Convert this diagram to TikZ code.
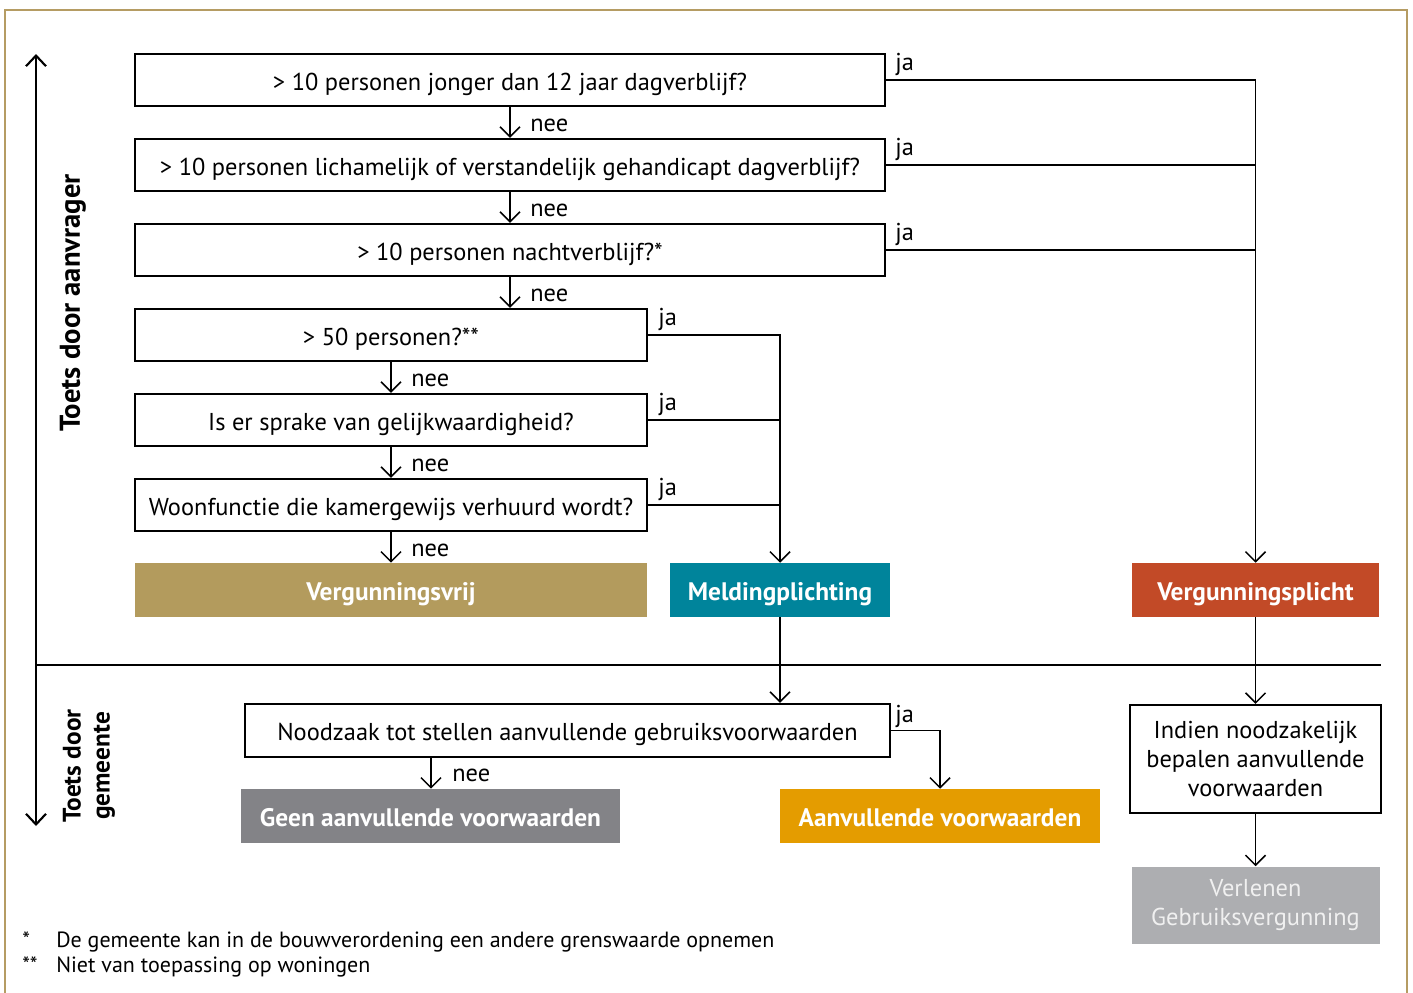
\documentclass[tikz,border=0pt]{standalone}
\usepackage{fontspec}
\setmainfont{PT Sans}
\usetikzlibrary{arrows.meta}
\definecolor{frameclr}{HTML}{B59C63}
\definecolor{goldclr}{HTML}{B39B5D}
\definecolor{tealclr}{HTML}{00849B}
\definecolor{redclr}{HTML}{C24A27}
\definecolor{greyclr}{HTML}{838387}
\definecolor{orangeclr}{HTML}{E49C00}
\definecolor{lgreyclr}{HTML}{ADAEB1}
\tikzset{
  x=0.75pt, y=-0.75pt,
  every node/.style={font=\fontsize{18.3pt}{21.75pt}\selectfont, inner sep=0pt},
  oneline/.style={text height=15pt, text depth=0pt},
  qbox/.style={draw=black, line width=1.8pt, fill=white, minimum height=39pt, oneline},
  result/.style={minimum height=40.5pt, text=white, oneline, font=\fontsize{19pt}{22pt}\selectfont\bfseries},
  conn/.style={line width=1.2pt},
  tip/.style={-{Straight Barb[length=7.5pt,width=15pt,line width=1.1pt]}},
  lbl/.style={anchor=base west},
  note/.style={anchor=base west, font=\fontsize{16.5pt}{20pt}\selectfont},
}
\begin{document}
\begin{tikzpicture}
\useasboundingbox (0,0) rectangle (1413,992);
% frame
\draw[frameclr, line width=1.6pt] (5,1000) -- (5,10) -- (1407,10) -- (1407,1000);

% applicant checks
\node[qbox, minimum width=562.5pt] (q1) at (510,80) {> 10 personen jonger dan 12 jaar dagverblijf?};
\node[qbox, minimum width=562.5pt] (q2) at (510,165) {> 10 personen lichamelijk of verstandelijk gehandicapt dagverblijf?};
\node[qbox, minimum width=562.5pt] (q3) at (510,250) {> 10 personen nachtverblijf?*};
\node[qbox, minimum width=384pt] (q4) at (391,335) {> 50 personen?**};
\node[qbox, minimum width=384pt] (q5) at (391,420) {Is er sprake van gelijkwaardigheid?};
\node[qbox, minimum width=384pt] (q6) at (391,505) {Woonfunctie die kamergewijs verhuurd wordt?};

% outcomes
\node[result, fill=goldclr, minimum width=384pt] (vv) at (391,590) {Vergunningsvrij};
\node[result, fill=tealclr, minimum width=165pt] (mp) at (780,590) {Meldingplichting};
\node[result, fill=redclr, minimum width=185.25pt] (vp) at (1255.5,590) {Vergunningsplicht};

% municipality checks
\node[qbox, minimum width=483.75pt, minimum height=39.75pt] (nz) at (567.5,730.5) {Noodzaak tot stellen aanvullende gebruiksvoorwaarden};
\node[result, fill=greyclr, minimum width=284.25pt] (ga) at (430.5,816) {Geen aanvullende voorwaarden};
\node[result, fill=orangeclr, minimum width=240pt] (av) at (940,816) {Aanvullende voorwaarden};
\node[draw=black, line width=1.8pt, minimum width=188.25pt, minimum height=81pt, align=center] (ind) at (1255.5,759) {Indien noodzakelijk\\bepalen aanvullende\\voorwaarden};
\node[minimum width=186pt, minimum height=57.75pt, fill=lgreyclr, text=white!94!black, align=center] (vg) at (1255.5,905) {Verlenen\\Gebruiksvergunning};

% axis
\coordinate (axtop) at (36,54);
\coordinate (axbot) at (36,826);
\coordinate (axsplit) at (36,665);
\coordinate (axend) at (1381,665);
\draw[line width=2pt, {Straight Barb[length=8pt,width=15pt,line width=1.6pt]}-{Straight Barb[length=8pt,width=15pt,line width=1.6pt]}] (axtop) -- (axbot);
\draw[line width=2pt] (axsplit) -- (axend);
\node[rotate=90, font=\fontsize{21.5pt}{24pt}\selectfont\bfseries] (lapp) at (73,303) {Toets door aanvrager};
\node[rotate=90, align=center, font=\fontsize{19pt}{21.75pt}\selectfont\bfseries] (lmun) at (89,766) {Toets door\\gemeente};

% "nee" connectors
\draw[conn, tip] (q1.south) -- (q2.north);
\draw[conn, tip] (q2.south) -- (q3.north);
\draw[conn, tip] (q3.south) -- (q3.south |- q4.north);
\draw[conn, tip] (q4.south) -- (q5.north);
\draw[conn, tip] (q5.south) -- (q6.north);
\draw[conn, tip] (q6.south) -- (vv.north);
\node[lbl] (n1) at (530,131) {nee};
\node[lbl] (n2) at (530,216) {nee};
\node[lbl] (n3) at (530,301) {nee};
\node[lbl] (n4) at (411,386) {nee};
\node[lbl] (n5) at (411,471) {nee};
\node[lbl] (n6) at (411,556) {nee};

% "ja" connectors to Vergunningsplicht
\draw[conn, tip] (q1.east) -| (vp.north);
\draw[conn] (q2.east) -- (q2.east -| vp.north);
\draw[conn] (q3.east) -- (q3.east -| vp.north);
\node[lbl] (j1) at (895,70) {ja};
\node[lbl] (j2) at (895,155) {ja};
\node[lbl] (j3) at (895,240) {ja};

% "ja" connectors to Meldingplichting
\draw[conn, tip] (q4.east) -| (mp.north);
\draw[conn] (q5.east) -- (q5.east -| mp.north);
\draw[conn] (q6.east) -- (q6.east -| mp.north);
\node[lbl] (j4) at (658,325) {ja};
\node[lbl] (j5) at (658,410) {ja};
\node[lbl] (j6) at (658,495) {ja};

% onwards to the municipality
\coordinate (nzout) at (431,757);
\draw[conn, tip] (mp.south) -- (mp.south |- nz.north);
\draw[conn, tip] (vp.south) -- (ind.north);
\draw[conn, tip] (nzout) -- (nzout |- ga.north);
\draw[conn, tip] (nz.east) -| (av.north);
\node[lbl] (j7) at (895,722) {ja};
\node[lbl] (n7) at (452,781) {nee};
\draw[conn, tip] (ind.south) -- (vg.north);

% footnotes
\node[note] (s1) at (22,947) {*};
\node[note] (f1) at (56,947) {De gemeente kan in de bouwverordening een andere grenswaarde opnemen};
\node[note] (s2) at (22,972) {**};
\node[note] (f2) at (56,972) {Niet van toepassing op woningen};
\end{tikzpicture}
\end{document}
